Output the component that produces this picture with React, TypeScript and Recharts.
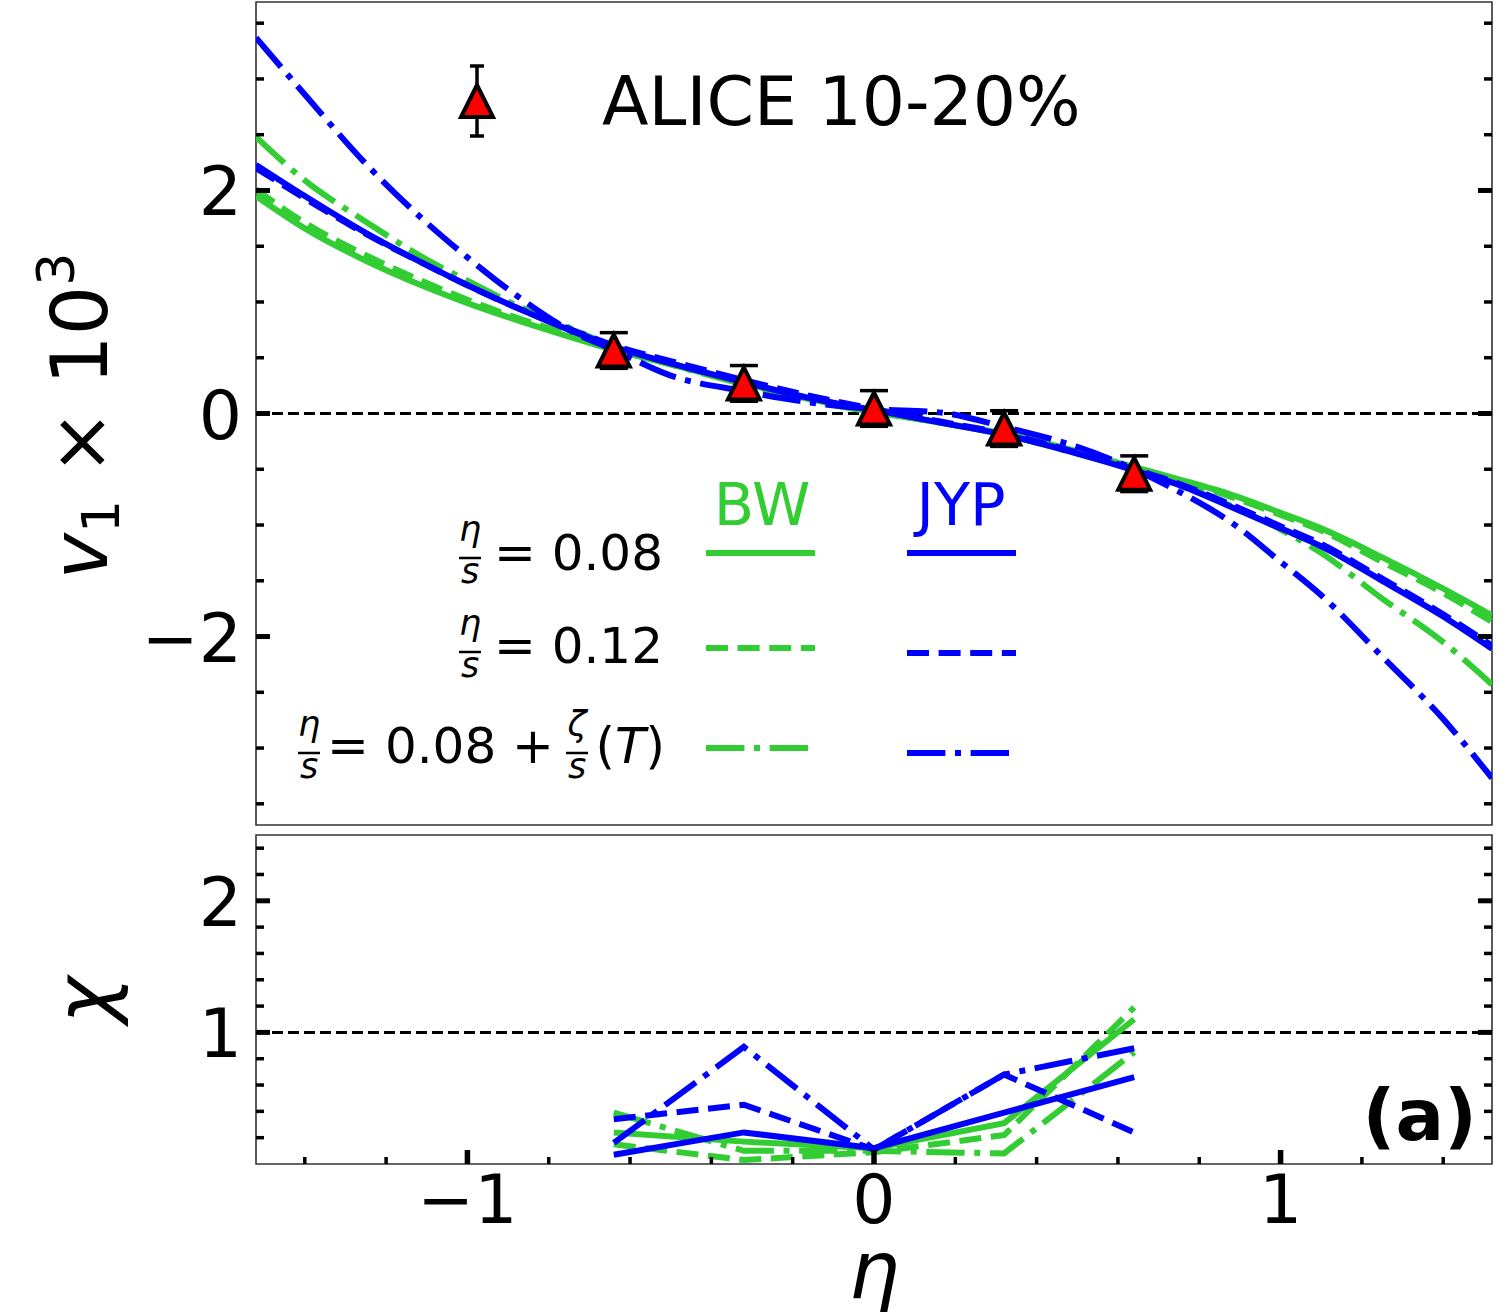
import React from "react";
import {
    ComposedChart,
    Line,
    Scatter,
    ErrorBar,
    XAxis,
    YAxis,
    ReferenceLine,
    ReferenceArea,
    Customized,
} from "recharts";

// eta grid for the model curves (top panel)
const etaGrid = [-1.52, -1.4, -1.25, -1.1, -1.0, -0.88, -0.75, -0.64, -0.5, -0.32, -0.16, 0, 0.16, 0.32, 0.5, 0.64, 0.75, 0.88, 1.0, 1.1, 1.25, 1.4, 1.52];

// v1 x 10^3 model curves
const bw008 = [1.95, 1.66, 1.37, 1.13, 0.99, 0.84, 0.69, 0.57, 0.44, 0.27, 0.13, 0.02, -0.08, -0.18, -0.34, -0.48, -0.59, -0.73, -0.89, -1.03, -1.29, -1.57, -1.81];
const bw012 = [2.01, 1.71, 1.42, 1.17, 1.02, 0.86, 0.71, 0.58, 0.45, 0.28, 0.14, 0.02, -0.08, -0.19, -0.35, -0.49, -0.6, -0.75, -0.91, -1.05, -1.33, -1.61, -1.87];
const bwZeta = [2.48, 2.09, 1.72, 1.38, 1.19, 0.97, 0.77, 0.6, 0.44, 0.26, 0.12, 0.01, -0.08, -0.19, -0.36, -0.5, -0.64, -0.83, -1.04, -1.25, -1.66, -2.05, -2.43];
const jyp008 = [2.23, 1.95, 1.62, 1.33, 1.15, 0.95, 0.75, 0.6, 0.45, 0.28, 0.14, 0.03, -0.08, -0.19, -0.36, -0.51, -0.64, -0.84, -1.03, -1.19, -1.5, -1.82, -2.11];
const jyp012 = [2.2, 1.93, 1.61, 1.33, 1.15, 0.95, 0.76, 0.61, 0.47, 0.3, 0.16, 0.04, -0.07, -0.18, -0.35, -0.5, -0.63, -0.82, -1.01, -1.17, -1.48, -1.8, -2.08];
const jypZeta = [3.37, 2.86, 2.24, 1.71, 1.4, 1.06, 0.75, 0.57, 0.34, 0.2, 0.1, 0.04, 0.01, -0.12, -0.3, -0.5, -0.7, -0.98, -1.33, -1.63, -2.18, -2.74, -3.27];

// ALICE 10-20% data
const aliceEta = [-0.64, -0.32, 0, 0.32, 0.64];
const aliceV1 = [0.565, 0.27, 0.045, -0.135, -0.54];
const aliceErr = [0.16, 0.16, 0.16, 0.16, 0.16];

// chi values at the data points (bottom panel)
const chiEta = [-0.64, -0.32, 0, 0.32, 0.64];
const chiBw008 = [0.24, 0.17, 0.12, 0.31, 1.1];
const chiBw012 = [0.15, 0.03, 0.09, 0.22, 1.19];
const chiBwZeta = [0.39, 0.1, 0.1, 0.08, 0.85];
const chiJyp008 = [0.07, 0.24, 0.12, 0.39, 0.66];
const chiJyp012 = [0.34, 0.45, 0.11, 0.68, 0.24];
const chiJypZeta = [0.16, 0.89, 0.11, 0.68, 0.88];

// ticks
const topYTicks = [-3.5, -3, -2.5, -2, -1.5, -1, -0.5, 0, 0.5, 1, 1.5, 2, 2.5, 3, 3.5];
const topYLabels = [-2, 0, 2];
const chiYTicks = [0.2, 0.4, 0.6, 0.8, 1, 1.2, 1.4, 1.6, 1.8, 2, 2.2, 2.4];
const chiYLabels = [1, 2];
const xTicks = [-1.4, -1.2, -1, -0.8, -0.6, -0.4, -0.2, 0, 0.2, 0.4, 0.6, 0.8, 1, 1.2, 1.4];
const xLabels = [-1, 0, 1];

const X_DOMAIN: [number, number] = [-1.52, 1.52];
const TOP_DOMAIN: [number, number] = [-3.69, 3.69];
const CHI_DOMAIN: [number, number] = [0, 2.5];

const FONT = "DejaVu Sans";
const GREEN = "#32cd32";
const BLUE = "#0000ff";
const DASH = "22 9.6";
const DASHDOT = "38.4 9.6 6 9.6";
const LW = 6;

const PL = 256;
const PR = 1492;
const CHI_TOP = 833;
const CHI_PB = 1164 - CHI_TOP;

const series = [
    { key: "bw008", color: GREEN, dash: undefined, v1: bw008, chi: chiBw008 },
    { key: "bw012", color: GREEN, dash: DASH, v1: bw012, chi: chiBw012 },
    { key: "bwZeta", color: GREEN, dash: DASHDOT, v1: bwZeta, chi: chiBwZeta },
    { key: "jyp008", color: BLUE, dash: undefined, v1: jyp008, chi: chiJyp008 },
    { key: "jyp012", color: BLUE, dash: DASH, v1: jyp012, chi: chiJyp012 },
    { key: "jypZeta", color: BLUE, dash: DASHDOT, v1: jypZeta, chi: chiJypZeta },
];

const aliceData = aliceEta.map((x, i) => ({ x, y: aliceV1[i], err: aliceErr[i] }));

const fmt = (v: number) => (v < 0 ? "\u2212" + Math.abs(v) : String(v));

const makeYTick = (labels: number[]) => (props: any) => {
    const { y, payload } = props;
    const major = labels.includes(payload.value);
    const len = major ? 14 : 8;
    const sw = major ? 5 : 3.5;
    return (
        <g>
            <line x1={PL} x2={PL + len} y1={y} y2={y} stroke="#000" strokeWidth={sw} />
            <line x1={PR - len} x2={PR} y1={y} y2={y} stroke="#000" strokeWidth={sw} />
            {major && (
                <text x={PL - 14} y={y + 25} textAnchor="end" fontSize={68} fontFamily={FONT} fill="#000">
                    {fmt(payload.value)}
                </text>
            )}
        </g>
    );
};

const XTick = (props: any) => {
    const { x, payload } = props;
    const major = xLabels.includes(payload.value);
    const len = major ? 14 : 7;
    const sw = major ? 5.5 : 3.5;
    return (
        <g>
            <line x1={x} x2={x} y1={CHI_PB} y2={CHI_PB - len} stroke="#000" strokeWidth={sw} />
            {major && (
                <text x={x} y={CHI_PB + 59} textAnchor="middle" fontSize={68} fontFamily={FONT} fill="#000">
                    {fmt(payload.value)}
                </text>
            )}
        </g>
    );
};

const Triangle = (props: any) => {
    const { cx, cy } = props;
    const h = 16;
    return (
        <polygon
            points={`${cx},${cy - h} ${cx - h},${cy + h} ${cx + h},${cy + h}`}
            fill="#ff0000"
            stroke="#000"
            strokeWidth={4}
        />
    );
};

const NoShape = () => <g />;

const Frac = ({ cx, bar, top }: { cx: number; bar: number; top: string }) => (
    <g fontFamily={FONT} fontStyle="italic" fontSize={35} fill="#000">
        <text x={cx} y={bar - 17} textAnchor="middle">{top}</text>
        <line x1={cx - 11} x2={cx + 11} y1={bar} y2={bar} stroke="#000" strokeWidth={2.5} />
        <text x={cx} y={bar + 25} textAnchor="middle">s</text>
    </g>
);

const legendRows = [
    { dash: undefined, gy: 553, by: 553 },
    { dash: DASH, gy: 648, by: 653 },
    { dash: DASHDOT, gy: 748, by: 753 },
];

const TopTexts = () => (
    <g fontFamily={FONT}>
        {/* y label */}
        <text transform="translate(107,416) rotate(-90)" textAnchor="middle" fontSize={78} fill="#000">
            <tspan fontStyle="italic">v</tspan>
            <tspan fontSize={52} dy={12}>1</tspan>
            <tspan dy={-12}> × 10</tspan>
            <tspan fontSize={52} dy={-33}>3</tspan>
        </text>

        {/* ALICE legend */}
        <line x1={477} x2={477} y1={65} y2={137} stroke="#000" strokeWidth={3.5} />
        <line x1={470} x2={484} y1={66} y2={66} stroke="#000" strokeWidth={3.5} />
        <line x1={470} x2={484} y1={136} y2={136} stroke="#000" strokeWidth={3.5} />
        <Triangle cx={477} cy={101} />
        <text x={602} y={125} fontSize={68} fill="#000">ALICE 10-20%</text>

        {/* model legend */}
        <text x={762} y={525} textAnchor="middle" fontSize={59} fill={GREEN}>BW</text>
        <text x={961} y={525} textAnchor="middle" fontSize={59} fill={BLUE}>JYP</text>
        {legendRows.map((r, i) => (
            <g key={i}>
                <line x1={706} x2={815} y1={r.gy} y2={r.gy} stroke={GREEN} strokeWidth={LW} strokeDasharray={r.dash} />
                <line x1={907} x2={1016} y1={r.by} y2={r.by} stroke={BLUE} strokeWidth={LW} strokeDasharray={r.dash} />
            </g>
        ))}

        <Frac cx={470} bar={558} top="η" />
        <text x={663} y={570} textAnchor="end" fontSize={50} fill="#000">= 0.08</text>
        <Frac cx={470} bar={652} top="η" />
        <text x={663} y={663} textAnchor="end" fontSize={50} fill="#000">= 0.12</text>
        <Frac cx={309} bar={753} top="η" />
        <text x={554} y={763} textAnchor="end" fontSize={50} fill="#000">= 0.08 +</text>
        <Frac cx={577} bar={753} top="ζ" />
        <text x={665} y={763} textAnchor="end" fontSize={50} fill="#000">
            (<tspan fontStyle="italic">T</tspan>)
        </text>
    </g>
);

const ChiTexts = () => (
    <g fontFamily={FONT} fill="#000">
        <text transform={`translate(111,${1000 - CHI_TOP}) rotate(-90)`} textAnchor="middle" fontSize={80} fontStyle="italic">
            χ
        </text>
        <text x={874} y={1298 - CHI_TOP} textAnchor="middle" fontSize={80} fontStyle="italic">η</text>
        <text x={1477} y={1140 - CHI_TOP} textAnchor="end" fontSize={72} fontWeight="bold">(a)</text>
    </g>
);

const App = () => {
    return (
        <div style={{ position: "absolute", left: 0, top: 0, width: 1511, height: 1312, background: "#fff" }}>
            <div style={{ position: "absolute", left: 0, top: 0 }}>
                <ComposedChart width={1511} height={830} margin={{ top: 2, right: 19, bottom: 5, left: 0 }}>
                    <XAxis type="number" dataKey="x" domain={X_DOMAIN} allowDataOverflow hide />
                    <YAxis
                        type="number"
                        width={256}
                        domain={TOP_DOMAIN}
                        allowDataOverflow
                        ticks={topYTicks}
                        interval={0}
                        tick={makeYTick(topYLabels)}
                        tickLine={false}
                        axisLine={false}
                    />
                    <ReferenceLine y={0} stroke="#000" strokeWidth={3} strokeDasharray="11 5" />
                    {series.map((s) => (
                        <Line
                            key={s.key}
                            data={etaGrid.map((x, i) => ({ x, y: s.v1[i] }))}
                            dataKey="y"
                            type="monotone"
                            stroke={s.color}
                            strokeWidth={LW}
                            strokeDasharray={s.dash}
                            dot={false}
                            activeDot={false}
                            isAnimationActive={false}
                        />
                    ))}
                    <Scatter data={aliceData} dataKey="y" shape={NoShape} isAnimationActive={false}>
                        <ErrorBar dataKey="err" direction="y" width={14} stroke="#000" strokeWidth={3.5} />
                    </Scatter>
                    <Scatter data={aliceData} dataKey="y" shape={Triangle} isAnimationActive={false} />
                    <ReferenceArea
                        x1={X_DOMAIN[0]}
                        x2={X_DOMAIN[1]}
                        y1={TOP_DOMAIN[0]}
                        y2={TOP_DOMAIN[1]}
                        fill="none"
                        stroke="#333"
                        strokeWidth={1.6}
                        ifOverflow="visible"
                    />
                    <Customized component={TopTexts} />
                </ComposedChart>
            </div>
            <div style={{ position: "absolute", left: 0, top: CHI_TOP }}>
                <ComposedChart width={1511} height={479} margin={{ top: 2, right: 19, bottom: 0, left: 0 }}>
                    <XAxis
                        type="number"
                        dataKey="x"
                        domain={X_DOMAIN}
                        allowDataOverflow
                        height={148}
                        ticks={xTicks}
                        interval={0}
                        tick={XTick}
                        tickLine={false}
                        axisLine={false}
                    />
                    <YAxis
                        type="number"
                        width={256}
                        domain={CHI_DOMAIN}
                        allowDataOverflow
                        ticks={chiYTicks}
                        interval={0}
                        tick={makeYTick(chiYLabels)}
                        tickLine={false}
                        axisLine={false}
                    />
                    <ReferenceLine y={1} stroke="#000" strokeWidth={3} strokeDasharray="11 5" />
                    {series.map((s) => (
                        <Line
                            key={s.key}
                            data={chiEta.map((x, i) => ({ x, y: s.chi[i] }))}
                            dataKey="y"
                            type="linear"
                            stroke={s.color}
                            strokeWidth={LW}
                            strokeDasharray={s.dash}
                            dot={false}
                            activeDot={false}
                            isAnimationActive={false}
                        />
                    ))}
                    <ReferenceArea
                        x1={X_DOMAIN[0]}
                        x2={X_DOMAIN[1]}
                        y1={CHI_DOMAIN[0]}
                        y2={CHI_DOMAIN[1]}
                        fill="none"
                        stroke="#333"
                        strokeWidth={1.6}
                        ifOverflow="visible"
                    />
                    <Customized component={ChiTexts} />
                </ComposedChart>
            </div>
        </div>
    );
};

export default App;
